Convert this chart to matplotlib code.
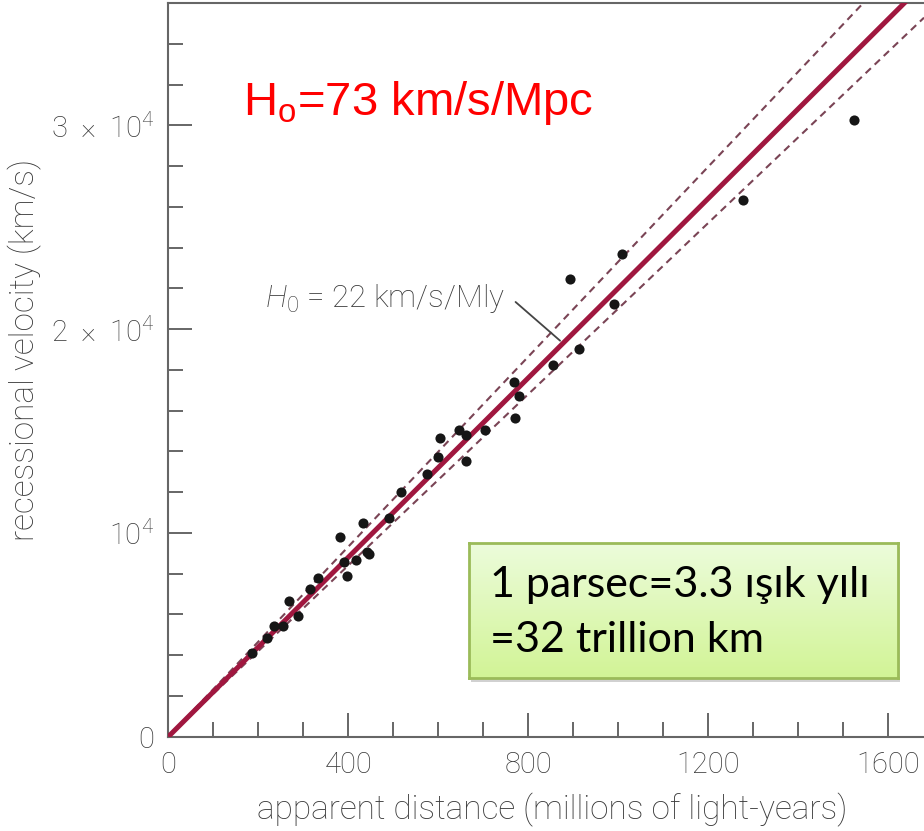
import numpy as np
import matplotlib
matplotlib.use("Agg")
import matplotlib.pyplot as plt
from matplotlib.patches import Rectangle

# ---- data ----
distance_mly = [185, 219, 234, 254, 268, 289, 314, 333, 382, 390, 397, 417, 432, 441, 446,
                490, 518, 576, 600, 604, 646, 662, 661, 704, 769, 780, 770, 856, 913, 894,
                1009, 990, 1278, 1525]
velocity_kms = [4130, 4840, 5440, 5430, 6680, 5920, 7270, 7780, 9790, 8570, 7880, 8680, 10470, 9060, 8970,
                10710, 12020, 12880, 13720, 14680, 15070, 14780, 13540, 15040, 17410, 16710, 15650, 18230, 19000, 22460,
                23660, 21210, 26350, 30280]
H0_fit = 22.0        # km/s/Mly
H0_upper = 23.3
H0_lower = 21.0
x_major_ticks = [0, 400, 800, 1200, 1600]
y_major_ticks = [0, 10000, 20000, 30000]
y_tick_labels = ["0", "10$^{\\mathregular{4}}$", "2  \u00d7  10$^{\\mathregular{4}}$", "3  \u00d7  10$^{\\mathregular{4}}$"]

plt.rcParams['mathtext.fontset'] = 'custom'
plt.rcParams['mathtext.rm'] = 'Roboto:light'
plt.rcParams['mathtext.it'] = 'Roboto:italic:light'
plt.rcParams['font.family'] = ['Roboto', 'DejaVu Sans']
plt.rcParams['font.weight'] = 'light'

gray = '#3a3a3a'
fig = plt.figure(figsize=(9.24, 8.31), dpi=100)
W, H = 924, 831
ax = fig.add_axes([168.3 / W, (H - 736.7) / H, (W - 168.3) / W, 733.7 / H])
ax.set_xlim(0, 1680)
ax.set_ylim(0, 36000)

xs = np.array([0, 1680])
ax.plot(xs, H0_upper * xs, ls=(0, (3.5, 2.5)), color='#7a4455', lw=1.5, zorder=2)
ax.plot(xs, H0_lower * xs, ls=(0, (3.5, 2.5)), color='#7a4455', lw=1.5, zorder=2)
ax.plot(xs, H0_fit * xs, color='#a0173f', lw=3.6, zorder=3, solid_capstyle='butt')
ax.plot(distance_mly, velocity_kms, 'o', color='#161616', ms=7.3, mew=0, zorder=4)

for s in ['left', 'bottom', 'top']:
    ax.spines[s].set_color('#666666')
    ax.spines[s].set_linewidth(1.5)
ax.spines['right'].set_visible(False)

ax.set_xticks(x_major_ticks)
ax.set_xticks(np.arange(0, 1681, 100), minor=True)
ax.set_yticks(y_major_ticks)
ax.set_yticklabels(y_tick_labels)
ax.set_yticks(np.arange(0, 36001, 2000), minor=True)
ax.tick_params(which='major', direction='in', length=17, width=1.4, color='#666666',
               labelsize=21, labelcolor=gray, pad=10)
ax.tick_params(which='minor', direction='in', length=11, width=1.4, color='#666666')
ax.tick_params(axis='x', which='both', top=False)
ax.tick_params(axis='y', which='both', right=False)
for lab in ax.get_xticklabels() + ax.get_yticklabels():
    lab.set_fontweight('light')

ax.set_xlabel('apparent distance (millions of light-years)', fontsize=24, color=gray, fontweight='light')
ax.set_ylabel('recessional velocity (km/s)', fontsize=24, color=gray, fontweight='light')
ax.xaxis.set_label_coords((552 - 168.3) / (W - 168.3), -(793 - 736.7) / 733.7)
ax.yaxis.set_label_coords(-(168.3 - 42) / (W - 168.3), (736.7 - 350) / 733.7)

# H0 annotation
ax.text(215, 21500, '$\\mathit{H}_{\\mathregular{0}}$ = 22 km/s/Mly', fontsize=22.5, color=gray,
        ha='left', va='center', fontweight='light')
ax.annotate('', xy=(871, 19430), xytext=(772, 21330),
            arrowprops=dict(arrowstyle='-', color='#444444', lw=1.3, shrinkA=0, shrinkB=0))

# red text
ax.text(166, 31100, 'H$_{\\mathregular{o}}$=73 km/s/Mpc', fontsize=34, color='#ff0000',
        ha='left', va='center', family=['Liberation Sans'], fontweight='normal')

# green box
bx0, bx1, by0, by1 = 469, 898, 543, 678
shadow = Rectangle(((bx0 + 2) / W, 1 - (by1 + 4) / H), (bx1 - bx0) / W, (by1 - by0) / H,
                   transform=fig.transFigure, facecolor='#000000', alpha=0.18, edgecolor='none', zorder=5)
fig.patches.append(shadow)
bax = fig.add_axes([bx0 / W, 1 - by1 / H, (bx1 - bx0) / W, (by1 - by0) / H])
bax.set_zorder(6)
top_c = np.array([236, 252, 219]) / 255
bot_c = np.array([210, 244, 150]) / 255
t = np.linspace(0, 1, 100)[:, None]
grad = (top_c[None, :] * (1 - t) + bot_c[None, :] * t)[:, None, :]
bax.imshow(grad, aspect='auto', extent=[0, 1, 0, 1], origin='upper')
bax.set_xticks([]); bax.set_yticks([])
for s in bax.spines.values():
    s.set_color('#9bbb59'); s.set_linewidth(2)
bax.text((490 - bx0) / (bx1 - bx0), (by1 - 585) / (by1 - by0), '1 parsec=3.3 ışık yılı',
         transform=bax.transAxes, fontsize=31, color='#000000', ha='left', va='center',
         family=['Lato', 'DejaVu Sans'], fontweight='normal')
bax.text((490 - bx0) / (bx1 - bx0), (by1 - 640) / (by1 - by0), '=32 trillion km',
         transform=bax.transAxes, fontsize=31, color='#000000', ha='left', va='center',
         family=['Lato', 'DejaVu Sans'], fontweight='normal')

fig.savefig('out.png', dpi=100)
